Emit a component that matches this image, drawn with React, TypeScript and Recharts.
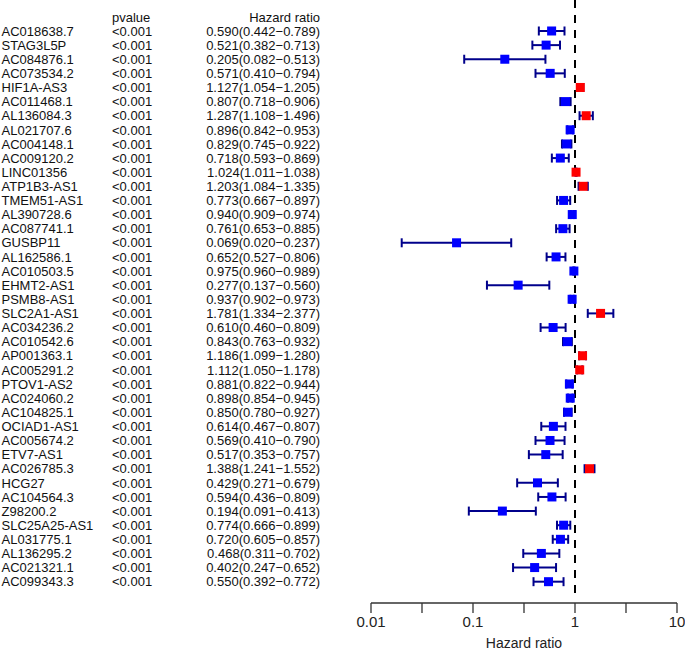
import React from 'react';
import {
  ScatterChart,
  Scatter,
  XAxis,
  YAxis,
  ErrorBar,
  ReferenceLine
} from 'recharts';

const genes = [
  'AC018638.7', 'STAG3L5P', 'AC084876.1', 'AC073534.2', 'HIF1A-AS3', 'AC011468.1',
  'AL136084.3', 'AL021707.6', 'AC004148.1', 'AC009120.2', 'LINC01356', 'ATP1B3-AS1',
  'TMEM51-AS1', 'AL390728.6', 'AC087741.1', 'GUSBP11', 'AL162586.1', 'AC010503.5',
  'EHMT2-AS1', 'PSMB8-AS1', 'SLC2A1-AS1', 'AC034236.2', 'AC010542.6', 'AP001363.1',
  'AC005291.2', 'PTOV1-AS2', 'AC024060.2', 'AC104825.1', 'OCIAD1-AS1', 'AC005674.2',
  'ETV7-AS1', 'AC026785.3', 'HCG27', 'AC104564.3', 'Z98200.2', 'SLC25A25-AS1',
  'AL031775.1', 'AL136295.2', 'AC021321.1', 'AC099343.3'
];

const pvalues = genes.map(() => '<0.001');

const hr = [
  0.590, 0.521, 0.205, 0.571, 1.127, 0.807, 1.287, 0.896, 0.829, 0.718,
  1.024, 1.203, 0.773, 0.940, 0.761, 0.069, 0.652, 0.975, 0.277, 0.937,
  1.781, 0.610, 0.843, 1.186, 1.112, 0.881, 0.898, 0.850, 0.614, 0.569,
  0.517, 1.388, 0.429, 0.594, 0.194, 0.774, 0.720, 0.468, 0.402, 0.550
];

const hrLow = [
  0.442, 0.382, 0.082, 0.410, 1.054, 0.718, 1.108, 0.842, 0.745, 0.593,
  1.011, 1.084, 0.667, 0.909, 0.653, 0.020, 0.527, 0.960, 0.137, 0.902,
  1.334, 0.460, 0.763, 1.099, 1.050, 0.822, 0.854, 0.780, 0.467, 0.410,
  0.353, 1.241, 0.271, 0.436, 0.091, 0.666, 0.605, 0.311, 0.247, 0.392
];

const hrHigh = [
  0.789, 0.713, 0.513, 0.794, 1.205, 0.906, 1.496, 0.953, 0.922, 0.869,
  1.038, 1.335, 0.897, 0.974, 0.885, 0.237, 0.806, 0.989, 0.560, 0.973,
  2.377, 0.809, 0.932, 1.280, 1.178, 0.944, 0.945, 0.927, 0.807, 0.790,
  0.757, 1.552, 0.679, 0.809, 0.413, 0.899, 0.857, 0.702, 0.652, 0.772
];

const xTicks = [0.01, 0.03162, 0.1, 0.3162, 1, 3.162, 10];
const xTickLabels = ['0.01', '', '0.1', '', '1', '', '10'];

const FONT = '"Liberation Sans", Arial, Helvetica, sans-serif';

const fmt = (v: number) => v.toFixed(3);

const data = genes.map((g, i) => ({
  row: i + 1,
  hr: hr[i],
  err: [hr[i] - hrLow[i], hrHigh[i] - hr[i]]
}));

const rowTicks = [0, ...genes.map((_, i) => i + 1)];

const RowLabel = (props: any) => {
  const { y, payload } = props;
  const idx = payload.value;
  const style = { fontFamily: FONT, fontSize: 13, fill: '#111' };
  if (idx === 0) {
    return (
      <g>
        <text x={112} y={y} dy="0.36em" style={style}>pvalue</text>
        <text x={320} y={y} dy="0.36em" textAnchor="end" style={style}>Hazard ratio</text>
      </g>
    );
  }
  const i = idx - 1;
  return (
    <g>
      <text x={1.5} y={y} dy="0.36em" style={style}>{genes[i]}</text>
      <text x={112} y={y} dy="0.36em" style={style}>{pvalues[i]}</text>
      <text x={320} y={y} dy="0.36em" textAnchor="end" style={style}>
        {`${fmt(hr[i])}(${fmt(hrLow[i])}\u2212${fmt(hrHigh[i])})`}
      </text>
    </g>
  );
};

const Square = (props: any) => {
  const { cx, cy, payload } = props;
  const s = 9;
  return (
    <rect
      x={cx - s / 2}
      y={cy - s / 2}
      width={s}
      height={s}
      fill={payload.hr > 1 ? '#ff0000' : '#0000ff'}
    />
  );
};

export default function App() {
  return (
    <div style={{ position: 'absolute', left: 0, top: 0, background: '#fff' }}>
      <ScatterChart
        width={685}
        height={657}
        margin={{ top: 0, right: 8, bottom: 0, left: 0 }}
      >
        <XAxis
          type="number"
          dataKey="hr"
          scale="log"
          domain={[0.01, 10]}
          ticks={xTicks}
          interval={0}
          tickFormatter={(v: number) => xTickLabels[xTicks.indexOf(v)] ?? ''}
          tickSize={10}
          tickMargin={3}
          height={54}
          stroke="#333"
          strokeWidth={1.3}
          tick={{ fontFamily: FONT, fontSize: 15, fill: '#222' }}
          label={{
            value: 'Hazard ratio',
            position: 'insideBottom',
            offset: 9,
            style: { fontFamily: FONT, fontSize: 14, fill: '#222' }
          }}
        />
        <YAxis
          type="number"
          dataKey="row"
          domain={[-1.195, 41.51]}
          reversed
          ticks={rowTicks}
          interval={0}
          width={371}
          axisLine={false}
          tickLine={false}
          tick={<RowLabel />}
        />
        <ReferenceLine
          segment={[{ x: 1, y: -1.195 }, { x: 1, y: 41.2 }]}
          stroke="#000"
          strokeWidth={2}
          strokeDasharray="8 7"
        />
        <Scatter data={data} shape={<Square />} isAnimationActive={false}>
          <ErrorBar
            dataKey="err"
            direction="x"
            width={4.5}
            stroke="#00008b"
            strokeWidth={2}
            isAnimationActive={false}
          />
        </Scatter>
      </ScatterChart>
    </div>
  );
}
